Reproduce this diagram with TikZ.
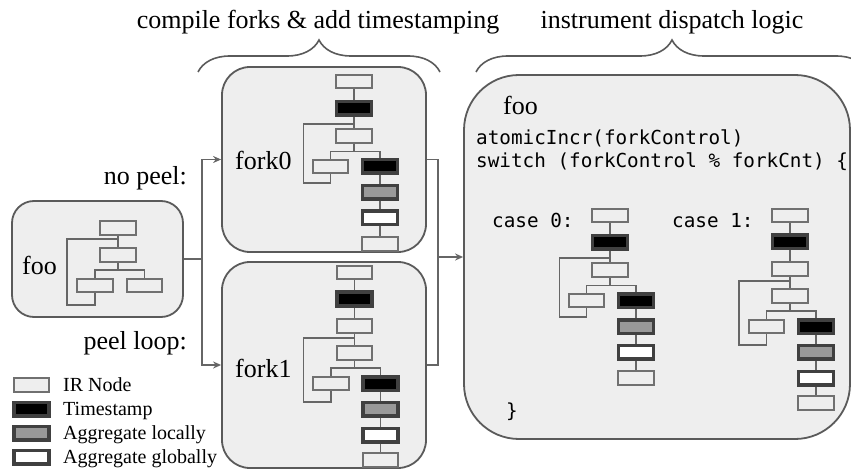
\documentclass[tikz,border=0pt]{standalone}
\usepackage{fontspec}
\setmainfont{Liberation Serif}
\newfontfamily\codefont{DejaVu Sans Mono}
\usetikzlibrary{arrows.meta,decorations.pathreplacing,calc}

\definecolor{boxfill}{HTML}{EEEEEE}
\definecolor{boxline}{HTML}{5A5A5A}
\definecolor{irline}{HTML}{707070}
\definecolor{thickline}{HTML}{404040}
\definecolor{aggfill}{HTML}{999999}
\definecolor{connc}{HTML}{666666}

\tikzset{
  bigbox/.style={draw=boxline, line width=1.8pt, fill=boxfill, inner sep=0pt},
  irnode/.style={draw=irline, line width=1.6pt, fill=boxfill, minimum width=35.5pt, minimum height=13.5pt, inner sep=0pt},
  tsnode/.style={draw=thickline, line width=3.5pt, fill=black, minimum width=35pt, minimum height=13.5pt, inner sep=0pt},
  alnode/.style={tsnode, fill=aggfill},
  agnode/.style={tsnode, fill=white},
  conn/.style={draw=connc, line width=1.6pt},
  arr/.style={conn, -{Stealth[length=8pt,width=7pt]}},
  bigtext/.style={font=\fontsize{26}{30}\selectfont, inner sep=0pt},
  legtext/.style={font=\fontsize{20}{24}\selectfont, inner sep=0pt, anchor=base west},
  codetext/.style={font=\codefont\fontsize{19.3}{23}\selectfont, inner sep=0pt, anchor=base west},
  bracedeco/.style={draw=boxline, line width=1.6pt, decorate, decoration={brace, amplitude=32pt}},
  graphA/.pic={
    \node[irnode] (-a) at (0,0) {};
    \node[tsnode] (-b) at (0,27) {};
    \node[irnode] (-c) at (0,54.5) {};
    \node[irnode] (-d) at (-23.5,85) {};
    \node[tsnode] (-e) at (26,85) {};
    \node[alnode] (-f) at (26,111) {};
    \node[agnode] (-g) at (26,136.5) {};
    \node[irnode] (-h) at (26,162.5) {};
    \coordinate (-lp) at (0,42.5);
    \coordinate (-br) at (0,70);
    \coordinate (-lb) at (-50.5,101.5);
    \draw[conn] (-a) -- (-b);
    \draw[conn] (-b) -- (-c);
    \draw[conn] (-c) -- (-br) -| (-d);
    \draw[conn] (-br) -| (-e);
    \draw[conn] (-lp) -| (-lb) -| (-d);
    \draw[conn] (-e) -- (-f);
    \draw[conn] (-f) -- (-g);
    \draw[conn] (-g) -- (-h);
  },
  graphB/.pic={
    \node[irnode] (-a) at (0,0) {};
    \node[tsnode] (-b) at (0,26.5) {};
    \node[irnode] (-c) at (0,53.5) {};
    \node[irnode] (-d) at (0,80.5) {};
    \node[irnode] (-e) at (-23.5,111) {};
    \node[tsnode] (-f) at (26,111) {};
    \node[alnode] (-g) at (26,136.5) {};
    \node[agnode] (-h) at (26,162.5) {};
    \node[irnode] (-i) at (26,187.5) {};
    \coordinate (-lp) at (0,65.5);
    \coordinate (-br) at (0,95.5);
    \coordinate (-lb) at (-51,129.5);
    \draw[conn] (-a) -- (-b);
    \draw[conn] (-b) -- (-c);
    \draw[conn] (-c) -- (-d);
    \draw[conn] (-d) -- (-br) -| (-e);
    \draw[conn] (-br) -| (-f);
    \draw[conn] (-lp) -| (-lb) -| (-e);
    \draw[conn] (-f) -- (-g);
    \draw[conn] (-g) -- (-h);
    \draw[conn] (-h) -- (-i);
  }
}

\begin{document}
\begin{tikzpicture}[x=1pt,y=-1pt]
\useasboundingbox (0,0) rectangle (851,470);

% titles and braces
\node[bigtext, anchor=base] (t1) at (318,29) {compile forks \& add timestamping};
\node[bigtext, anchor=base] (t2) at (672,29) {instrument dispatch logic};
\coordinate (b1l) at (198,72);
\coordinate (b1r) at (440,72);
\coordinate (b2l) at (476,72);
\coordinate (b2r) at (868,72);
\draw[bracedeco] (b1l) -- (b1r);
\draw[bracedeco] (b2l) -- (b2r);

% big boxes
\node[bigbox, rounded corners=22pt, minimum width=171pt, minimum height=116pt] (foo) at (97.5,259) {};
\node[bigbox, rounded corners=28pt, minimum width=204pt, minimum height=185pt] (fork0) at (324,159.5) {};
\node[bigbox, rounded corners=28pt, minimum width=204pt, minimum height=206pt] (fork1) at (324,365) {};
\node[bigbox, rounded corners=55pt, minimum width=386pt, minimum height=364pt] (disp) at (657,257) {};

% connectors between boxes
\coordinate (j1) at (202,259);
\coordinate (j2) at (438,257);
\draw[conn] (foo.east) -- (j1);
\draw[arr] (j1) |- (fork0.west);
\draw[arr] (j1) |- (fork1.west);
\draw[conn] (fork0.east) -| (j2);
\draw[conn] (fork1.east) -| (j2);
\draw[arr] (j2) -- (disp.west);

% labels
\node[bigtext, anchor=base east] (nopeel) at (187,185) {no peel:};
\node[bigtext, anchor=base east] (peelloop) at (187,349) {peel loop:};
\node[bigtext, anchor=base west] (foolbl) at (22,275) {foo};
\node[bigtext, anchor=base west] (f0lbl) at (235,170) {fork0};
\node[bigtext, anchor=base west] (f1lbl) at (235,377) {fork1};
\node[bigtext, anchor=base west] (foo2lbl) at (503,115) {foo};

% code
\node[codetext] (code1) at (476,145) {atomicIncr(forkControl)};
\node[codetext] (code2) at (476,168) {switch (forkControl \% forkCnt) \{};
\node[codetext] (case0) at (492,228) {case 0:};
\node[codetext] (case1) at (672,228) {case 1:};
\node[codetext] (closebr) at (506,417) {\}};

% foo mini graph
\node[irnode] (fa) at (118,228) {};
\node[irnode] (fb) at (118,255) {};
\node[irnode] (fc) at (95,285.5) {};
\node[irnode] (fd) at (144.5,285.5) {};
\coordinate (flp) at (118,239);
\coordinate (fbr) at (118,270);
\coordinate (flb) at (67,305);
\draw[conn] (fa) -- (fb);
\draw[conn] (fb) -- (fbr) -| (fc);
\draw[conn] (fbr) -| (fd);
\draw[conn] (flp) -| (flb) -| (fc);

% graphs
\pic (f0) at (354,81.5) {graphA};
\pic (f1) at (354.5,272.5) {graphB};
\pic (c0) at (610,215.5) {graphA};
\pic (c1) at (790,215.5) {graphB};

% legend
\node[irnode] (lg1) at (31.5,385) {};
\node[tsnode] (lg2) at (31.5,409) {};
\node[alnode] (lg3) at (31.5,433) {};
\node[agnode] (lg4) at (31.5,457) {};
\node[legtext] (lt1) at (63,391.5) {IR Node};
\node[legtext] (lt2) at (63,415.5) {Timestamp};
\node[legtext] (lt3) at (63,439.5) {Aggregate locally};
\node[legtext] (lt4) at (63,463.5) {Aggregate globally};
\end{tikzpicture}
\end{document}
